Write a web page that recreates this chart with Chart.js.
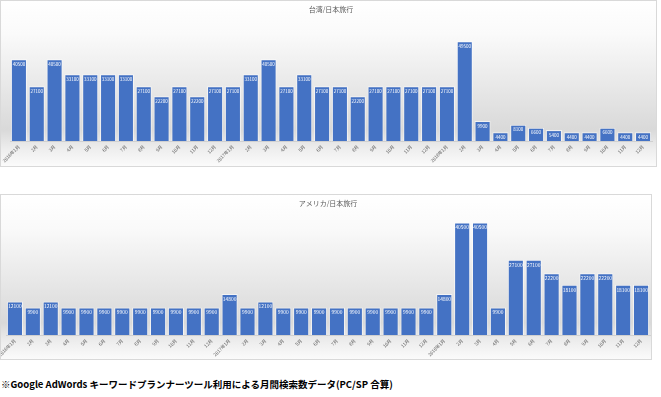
<!DOCTYPE html>
<html>
<head>
<meta charset="utf-8">
<script src="https://cdn.jsdelivr.net/npm/chart.js@4.4.1/dist/chart.umd.min.js"></script>
<style>
  body { margin: 0; background: #fff; width: 661px; height: 397px; position: relative; overflow: hidden; font-family: 'Noto Sans CJK JP', sans-serif; }
  .box { position: absolute; left: 0; border: 1px solid #d9d9d9; box-sizing: border-box; }
  #boxTaiwan { top: 0; width: 657px; height: 167px; }
  #boxUsa { top: 194px; width: 652px; height: 166px; }
  .box canvas { display: block; }
  #note { position: absolute; left: 1px; top: 377px; font-size: 9.5px; font-weight: bold; color: #000; white-space: nowrap; }
</style>
</head>
<body>
<div class="box" id="boxTaiwan"><canvas id="chartTaiwan"></canvas></div>
<div class="box" id="boxUsa"><canvas id="chartUsa"></canvas></div>
<div id="note">※Google AdWords キーワードプランナーツール利用による月間検索数データ(PC/SP 合算)</div>

<script>
const months = [
  '2016年1月', '2月', '3月', '4月', '5月', '6月', '7月', '8月', '9月', '10月', '11月', '12月',
  '2017年1月', '2月', '3月', '4月', '5月', '6月', '7月', '8月', '9月', '10月', '11月', '12月',
  '2018年1月', '2月', '3月', '4月', '5月', '6月', '7月', '8月', '9月', '10月', '11月', '12月'
];

const taiwanValues = [
  40500, 27100, 40500, 33100, 33100, 33100, 33100, 27100, 22200, 27100, 22200, 27100,
  27100, 33100, 40500, 27100, 33100, 27100, 27100, 22200, 27100, 27100, 27100, 27100,
  27100, 49500, 9900, 4400, 8100, 6600, 5400, 4400, 4400, 6600, 4400, 4400
];

const usaValues = [
  12100, 9900, 12100, 9900, 9900, 9900, 9900, 9900, 9900, 9900, 9900, 9900,
  14800, 9900, 12100, 9900, 9900, 9900, 9900, 9900, 9900, 9900, 9900, 9900,
  14800, 40500, 40500, 9900, 27100, 27100, 22200, 18100, 22200, 22200, 18100, 18100
];

const fontFamily = "'Noto Sans CJK JP', sans-serif";

// fondo degradado estilo Excel
const bgPlugin = {
  id: 'bgGradient',
  beforeDraw(chart) {
    const { ctx, width, height } = chart;
    const g = ctx.createLinearGradient(0, 0, 0, height);
    g.addColorStop(0, '#ffffff');
    g.addColorStop(0.2, '#fafafa');
    g.addColorStop(0.78, '#d9d9d9');
    g.addColorStop(0.9, '#eeeeee');
    g.addColorStop(1, '#fbfbfb');
    ctx.save();
    ctx.fillStyle = g;
    ctx.fillRect(0, 0, width, height);
    ctx.restore();
  }
};

// valores dentro de la barra, arriba
const valuePlugin = {
  id: 'barValues',
  afterDatasetsDraw(chart, args, opts) {
    const { ctx } = chart;
    const meta = chart.getDatasetMeta(0);
    const values = chart.data.datasets[0].data;
    ctx.save();
    ctx.fillStyle = '#ffffff';
    ctx.font = opts.size + 'px ' + fontFamily;
    ctx.textAlign = 'center';
    ctx.textBaseline = 'middle';
    meta.data.forEach((bar, i) => {
      ctx.fillText(String(values[i]), bar.x, bar.y + 5);
    });
    ctx.restore();
  }
};

function makeConfig(title, values, yMax, titleGap, axisHeight, padLeft, padRight, labelSize) {
  return {
    type: 'bar',
    data: {
      labels: months,
      datasets: [{
        data: values,
        backgroundColor: '#4472c4',
        borderColor: 'rgba(255, 255, 255, 0.6)',
        borderWidth: 1,
        categoryPercentage: 0.9,
        barPercentage: 1
      }]
    },
    options: {
      responsive: true,
      maintainAspectRatio: false,
      animation: false,
      layout: { padding: { left: padLeft, right: padRight, top: 0, bottom: 0 } },
      plugins: {
        legend: { display: false },
        tooltip: { enabled: false },
        title: {
          display: true,
          text: title,
          color: '#595959',
          font: { family: fontFamily, size: 7, weight: 'normal' },
          padding: { top: 4, bottom: titleGap }
        },
        barValues: { size: labelSize }
      },
      scales: {
        x: {
          grid: { display: false, drawTicks: false },
          border: { display: true, color: '#d0d0d0' },
          ticks: {
            color: '#595959',
            font: { family: fontFamily, size: 4.6 },
            minRotation: 45,
            maxRotation: 45,
            autoSkip: false,
            padding: 3
          },
          afterFit(axis) {
            axis.height = axisHeight;
            axis.paddingLeft = 0;
            axis.paddingRight = 0;
          }
        },
        y: {
          display: false,
          min: 0,
          max: yMax
        }
      }
    },
    plugins: [bgPlugin, valuePlugin]
  };
}

const chartTaiwan = new Chart(
  document.getElementById('chartTaiwan'),
  makeConfig('台湾/日本旅行', taiwanValues, 60000, 6.6, 25, 9, 4, 4.5)
);

const chartUsa = new Chart(
  document.getElementById('chartUsa'),
  makeConfig('アメリカ/日本旅行', usaValues, 45000, 2.6, 24, 5, 1, 4.9)
);
</script>
</body>
</html>
